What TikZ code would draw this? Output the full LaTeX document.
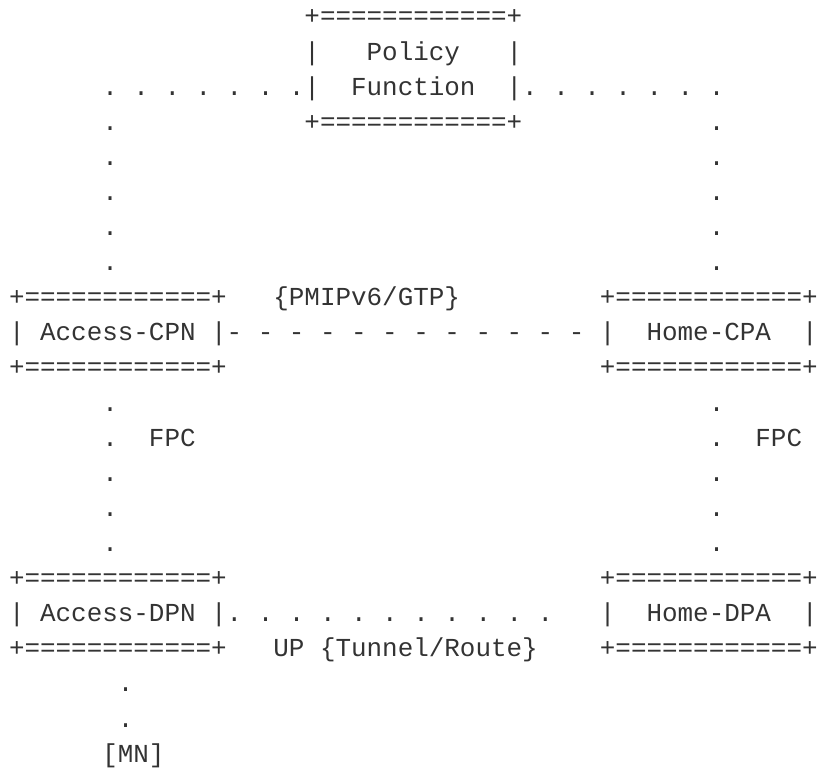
\documentclass[tikz,border=0pt]{standalone}
\usepackage{fontspec}
\setmonofont{Liberation Mono}
\frenchspacing
\definecolor{ink}{HTML}{333333}
\tikzset{
  ascii/.style={anchor=base west,inner sep=0pt,outer sep=0pt,text=ink,
    font=\ttfamily\fontsize{25.92pt}{35.1pt}\selectfont},
}
\begin{document}
\begin{tikzpicture}[x=15.55pt,y=-35.1pt]
\useasboundingbox (-0.579,-0.712) rectangle (52.09,21.57);
% policy function
\node[ascii] (pftop) at (19,0) {+============+};
\node[ascii] (pfa) at (19,1) {|~~~Policy~~~|};
\node[ascii] (pfb) at (19,2) {|~~Function~~|};
\node[ascii] (pfbot) at (19,3) {+============+};
\node[ascii] (pfl) at (6,2) {. . . . . . .};
\node[ascii] (pfr) at (33,2) {. . . . . . .};
\foreach \i in {3,...,7} {
  \node[ascii] (ul\i) at (6,\i) {.};
  \node[ascii] (ur\i) at (45,\i) {.};
}
% control plane
\node[ascii] (cpntop) at (0,8) {+============+};
\node[ascii] (cpn) at (0,9) {|~Access-CPN~|};
\node[ascii] (cpnbot) at (0,10) {+============+};
\node[ascii] (cpatop) at (38,8) {+============+};
\node[ascii] (cpa) at (38,9) {|~~Home-CPA~~|};
\node[ascii] (cpabot) at (38,10) {+============+};
\node[ascii] (sig) at (17,8) {\{PMIPv6/GTP\}};
\node[ascii] (sigline) at (14,9) {- - - - - - - - - - - -};
\foreach \i in {11,...,15} {
  \node[ascii] (ll\i) at (6,\i) {.};
  \node[ascii] (lr\i) at (45,\i) {.};
}
\node[ascii] (fpcl) at (9,12) {FPC};
\node[ascii] (fpcr) at (48,12) {FPC};
% user plane
\node[ascii] (dpntop) at (0,16) {+============+};
\node[ascii] (dpn) at (0,17) {|~Access-DPN~|};
\node[ascii] (dpnbot) at (0,18) {+============+};
\node[ascii] (dpatop) at (38,16) {+============+};
\node[ascii] (dpa) at (38,17) {|~~Home-DPA~~|};
\node[ascii] (dpabot) at (38,18) {+============+};
\node[ascii] (upline) at (14,17) {. . . . . . . . . . .};
\node[ascii] (up) at (17,18) {UP \{Tunnel/Route\}};
\node[ascii] (mn1) at (7,19) {.};
\node[ascii] (mn2) at (7,20) {.};
\node[ascii] (mn) at (6,21) {[MN]};
\end{tikzpicture}
\end{document}
